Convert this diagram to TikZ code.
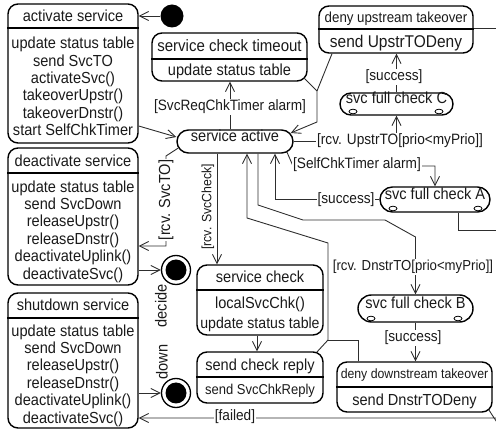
\documentclass[tikz,border=0pt]{standalone}
\usepackage{fontspec}
\setmainfont{Liberation Sans}[FakeStretch=0.91]
\usetikzlibrary{arrows.meta,fit,calc}
\definecolor{ink}{HTML}{1A1A1A}
\definecolor{wire}{HTML}{2E2E2E}
\newcommand\fsz[1]{\fontsize{#1}{17.4}\selectfont}

\begin{document}
\begin{tikzpicture}[x=1pt, y=-1pt,
  box/.style={draw=black, line width=1.4pt, rounded corners=10pt, inner sep=0pt},
  pill/.style={draw=black, line width=1.4pt, rounded corners=#1, inner sep=0pt, font=\fsz{16}, text=ink},
  divider/.style={draw=black, line width=1.2pt},
  txt/.style={inner sep=0pt, font=\fsz{16}, text=ink, align=center},
  lbl/.style={inner sep=1pt, fill=white, font=\fsz{15}, text=ink},
  conn/.style={draw=wire, line width=0.9pt},
  arr/.style={conn, -{Straight Barb[length=9pt, width=9pt]}},
  startdot/.style={circle, fill=black, minimum size=23pt, inner sep=0pt},
  enddot/.style={circle, draw=black, line width=1.3pt, minimum size=29pt, inner sep=0pt,
     path picture={\fill[black] (path picture bounding box.center) circle[radius=10.5pt];}},
  port/.style={line width=0.8pt, draw=black}
]
\useasboundingbox (0,0) rectangle (496,430);
\clip (0,0) rectangle (496,430);

% ---------- left column: entry / exit actions ----------
\node[startdot] (init) at (172,16) {};

\node[box, fit={(8,4) (138,143)}] (act) {};
\draw[divider] (act.west |- 0,28) -- (act.east |- 0,28);
\node[txt] (act-t) at (73,16) {activate service};
\node[txt] (act-b) at (73,86.5) {update status table\\send SvcTO\\activateSvc()\\takeoverUpstr()\\takeoverDnstr()\\start SelfChkTimer};

\node[box, fit={(8,148) (138,285)}] (deact) {};
\draw[divider] (deact.west |- 0,173) -- (deact.east |- 0,173);
\node[txt] (deact-t) at (73,161) {deactivate service};
\node[txt] (deact-b) at (73,231.5) {update status table\\send SvcDown\\releaseUpstr()\\releaseDnstr()\\deactivateUplink()\\deactivateSvc()};

\node[box, fit={(8,293) (138,428)}] (shut) {};
\draw[divider] (shut.west |- 0,318) -- (shut.east |- 0,318);
\node[txt] (shut-t) at (73,305) {shutdown service};
\node[txt] (shut-b) at (73,375.5) {update status table\\send SvcDown\\releaseUpstr()\\releaseDnstr()\\deactivateUplink()\\deactivateSvc()};

\node[enddot] (decide) at (176,270) {};
\node[enddot] (down) at (176,393) {};
\node[txt, rotate=90] (decide-l) at (161,306) {decide};
\node[txt, rotate=90] (down-l) at (162,362) {down};

% ---------- middle and right states ----------
\node[box, fit={(152,33) (307,81)}] (sct) {};
\draw[divider] (sct.west |- 0,59) -- (sct.east |- 0,59);
\node[txt, font=\fsz{16.5}] (sct-t) at (229.5,46) {service check timeout};
\node[txt] (sct-b) at (229.5,71) {update status table};

\node[box, fit={(319,6) (473,53)}] (dut) {};
\draw[divider] (dut.west |- 0,29) -- (dut.east |- 0,29);
\node[txt, font=\fsz{14.6}] (dut-t) at (396,18.5) {deny upstream takeover};
\node[txt, font=\fsz{17}] (dut-b) at (396,43) {send UpstrTODeny};

\node[pill=11.5pt, fit={(177,130) (293,153)}] (sa) {service active};
\node[pill=11pt, fit={(340,93) (453,115)}] (fcC) {svc full check C};
\node[pill=12.5pt, fit={(380,187) (490,212)}] (fcA) {svc full check A};
\node[pill=13.5pt, fit={(358,295) (473,322)}] (fcB) {svc full check B};

\node[box, fit={(197,265) (323,335)}] (sc) {};
\draw[divider] (sc.west |- 0,290) -- (sc.east |- 0,290);
\node[txt] (sc-t) at (260,277) {service check};
\node[txt] (sc-b1) at (260,304.5) {localSvcChk()};
\node[txt, font=\fsz{15.5}] (sc-b2) at (260,324.5) {update status table};

\node[box, fit={(197,352) (323,403)}] (scr) {};
\draw[divider] (scr.west |- 0,377) -- (scr.east |- 0,377);
\node[txt] (scr-t) at (260,366) {send check reply};
\node[txt, font=\fsz{14.3}] (scr-b) at (260,391) {send SvcChkReply};

\node[box, fit={(337,362) (492,412)}] (ddt) {};
\draw[divider] (ddt.west |- 0,387) -- (ddt.east |- 0,387);
\node[txt, font=\fsz{13.5}] (ddt-t) at (414.5,375) {deny downstream takeover};
\node[txt] (ddt-b) at (414.5,401) {send DnstrTODeny};

% sub-machine marks on the full checks
\foreach \px/\py in {353/111.5, 439/111.5, 393/208.5, 478/208.5, 371/318.5, 458/318.5}
  \draw[port] (\px,\py) ellipse [x radius=4pt, y radius=2.3pt];

% ---------- transitions ----------
\draw[arr] (init) -- (act.east |- init);
\draw[arr] (act.east |- 0,126) -- (sa.west |- 0,137);

\draw[arr] (sa.north -| 230,0) -- (sct.south -| 230,0);
\node[lbl] (l-req) at (230,107) {[SvcReqChkTimer alarm]};

\coordinate (j1) at (317,91);
\coordinate (j1b) at (317,122);
\draw[conn] ($(sct.south east)+(-3,-3)$) -- (j1);
\draw[conn] (dut.south -| 332,0) -- (j1);
\draw[arr] (j1) -- (j1b) -- ($(sa.east)+(-3,-8.5)$);

\draw[arr] (sa.east) -- (fcC.south |- sa.east) -- (fcC.south);
\node[lbl] (l-up) at (400,141) {[rcv. UpstrTO[prio<myPrio]]};

\draw[arr] (fcC.north) -- (dut.south -| fcC.north);
\node[lbl] (l-sc) at (394,77) {[success]};

\draw[arr] ($(sa.east)+(-7,10)$) -- (293,166) -- (fcA.north |- 0,166) -- (fcA.north);
\node[lbl] (l-self) at (357,165) {[SelfChkTimer alarm]};

\draw[arr] (fcA.west) -- (fcA.west -| 275,0) -- (sa.south -| 275,0);
\node[lbl] (l-sa) at (346,200) {[success]};

\draw[arr] (sa.south -| 217,0) -- (sc.north -| 217,0);
\node[txt, font=\fsz{13.5}, rotate=90] (l-chk) at (208,207) {[rcv. SvcCheck]};

\draw[arr] ($(sa.west)+(2,6.5)$) -- (166,156) -- (166,246) -- (deact.east |- 0,246);
\node[lbl, rotate=90, font=\fsz{16}] (l-to) at (166,200) {[rcv. SvcTO]};

\draw[arr] (sc.south -| 257,0) -- (scr.north -| 257,0);

\coordinate (j2) at (328,340);
\draw[conn] ($(scr.north east)+(-7,1)$) -- (j2);
\draw[conn] (ddt.north -| 358,0) -- (358,340) -- (j2);
\draw[arr] (j2) -- (328,243) -- (247,218) -- (sa.south -| 247,0);

\draw[arr] (sa.south -| 258,0) -- (258,205) -- (303,220) -- (385,220) -- (fcB.north |- 0,237) -- (fcB.north);
\node[lbl, font=\fsz{14.5}] (l-dn) at (413,267) {[rcv. DnstrTO[prio<myPrio]]};

\draw[arr] (fcB.south) -- (ddt.north -| fcB.south);
\node[lbl] (l-sb) at (413,338) {[success]};

\draw[arr] ($(ddt.south east)+(-4,-3)$) -- (506,436) -- (506,418) -- (shut.east |- 0,418);
\node[lbl] (l-fail) at (235,417) {[failed]};

\draw[conn] (fcA.south -| 458,0) -- (458,230) -- (510,230);
\draw[conn] (dut.east |- 0,28) -- (510,28);

\draw[arr] (deact.east |- decide) -- (decide);
\draw[arr] (shut.east |- down) -- (down);
\end{tikzpicture}
\end{document}
